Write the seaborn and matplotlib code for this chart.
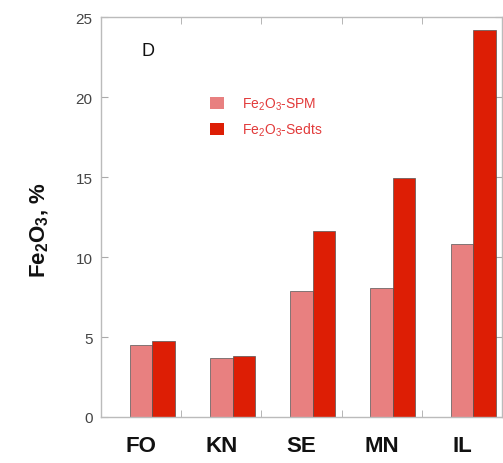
import matplotlib
matplotlib.use("Agg")
import matplotlib.pyplot as plt
import seaborn as sns
import pandas as pd
import numpy as np
from matplotlib.patches import Patch
from matplotlib.ticker import FixedLocator

sites = ["FO", "KN", "SE", "MN", "IL"]
spm = [4.52, 3.67, 7.9, 8.04, 10.8]
sedts = [4.77, 3.83, 11.6, 14.92, 24.2]
series_labels = [r"Fe$_2$O$_3$-SPM", r"Fe$_2$O$_3$-Sedts"]
colors = ["#E88080", "#DD1E05"]
yticks = [0, 5, 10, 15, 20, 25]

sns.set_style("white")
plt.rcParams["font.family"] = ["Liberation Sans", "DejaVu Sans"]
plt.rcParams["mathtext.fontset"] = "custom"
plt.rcParams["mathtext.rm"] = "Liberation Sans"
plt.rcParams["mathtext.it"] = "Liberation Sans"
plt.rcParams["mathtext.bf"] = "Liberation Sans:bold"

df = pd.DataFrame({
    "site": sites * 2,
    "value": spm + sedts,
    "series": [series_labels[0]] * len(sites) + [series_labels[1]] * len(sites),
})

fig = plt.figure(figsize=(5.03, 4.64), dpi=100)
ax = fig.add_axes([101 / 503, 46 / 464, 401 / 503, 400 / 464])

sns.barplot(data=df, x="site", y="value", hue="series", order=sites,
            hue_order=series_labels, palette=colors, saturation=1, width=0.56,
            edgecolor="#555555", linewidth=0.5, legend=False, ax=ax)

off = 0.14
ax.set_xlim(-0.5 - off, 4.5 - off)
ax.set_ylim(0, 25)
ax.set_xticks([i - off for i in range(len(sites))])
ax.set_xticklabels(sites, fontsize=16, fontweight="bold", color="#111111")
ax.xaxis.set_minor_locator(FixedLocator([i + 0.5 - off for i in range(len(sites) - 1)]))
ax.set_yticks(yticks)
ax.set_yticklabels([str(t) for t in yticks], fontsize=11, color="#444444")
ax.set_xlabel("")
ax.set_ylabel("")

ax.tick_params(axis="x", which="major", length=0, pad=13)
ax.tick_params(axis="x", which="minor", direction="in", length=5, color="#aaaaaa",
               top=True, bottom=True)
ax.tick_params(axis="y", which="major", direction="in", length=5, color="#aaaaaa",
               left=True, right=True, pad=6)

for s in ax.spines.values():
    s.set_visible(True)
    s.set_color("#bbbbbb")
    s.set_linewidth(1.0)

ax.text(-0.152, 0.47, r"Fe$_\mathbf{2}$O$_\mathbf{3}$, %", rotation=90,
        ha="center", va="center", fontsize=16, fontweight="bold",
        transform=ax.transAxes, color="#111111")

ax.text(0.102, 0.915, "D", ha="left", va="center", fontsize=13,
        transform=ax.transAxes, color="#111111")

handles = [Patch(facecolor=c, edgecolor="none") for c in colors]
leg = ax.legend(handles, series_labels, loc="upper left",
                bbox_to_anchor=(0.272, 0.8025), frameon=False, fontsize=10,
                handlelength=1.0, handleheight=1.0, handletextpad=1.3,
                borderpad=0, borderaxespad=0, labelspacing=0.6)
for t in leg.get_texts():
    t.set_color("#E23A3A")

fig.savefig("out.png", dpi=100)
